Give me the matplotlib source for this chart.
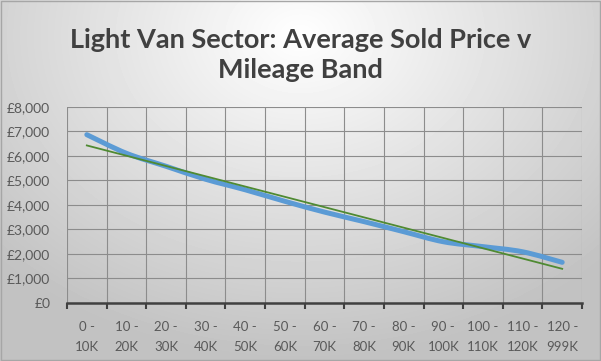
import numpy as np
import matplotlib.pyplot as plt
from matplotlib.path import Path
from matplotlib.patches import PathPatch
from matplotlib.ticker import FixedLocator, FuncFormatter

# mileage bands and average sold price (GBP)
bands = ["0 -\n10K", "10 -\n20K", "20 -\n30K", "30 -\n40K", "40 -\n50K", "50 -\n60K",
         "60 -\n70K", "70 -\n80K", "80 -\n90K", "90 -\n100K", "100 -\n110K",
         "110 -\n120K", "120 -\n999K"]
avg_price = [6870, 6110, 5580, 5050, 4620, 4150, 3710, 3320, 2910, 2500, 2300, 2090, 1660]

plt.rcParams['font.family'] = ['Lato', 'DejaVu Sans']

fig = plt.figure(figsize=(6.01, 3.61), dpi=100)

# background: radial grey gradient
bg = fig.add_axes([0, 0, 1, 1], zorder=-10)
yy, xx = np.mgrid[0:361, 0:601]
r = np.sqrt((xx - 300) ** 2 + ((yy - 35) * 1.3) ** 2) / 420
r = np.clip(r, 0, 1)
shade = 1.0 - 0.24 * r
bg.imshow(shade, cmap='gray', vmin=0, vmax=1, aspect='auto', extent=[0, 1, 0, 1])
bg.set_axis_off()
bg.add_patch(plt.Rectangle((0.001, 0.002), 0.997, 0.995, transform=bg.transAxes,
                           fill=False, ec='#a6a6a6', lw=1))

ax = fig.add_axes([0.1115, 0.1607, 0.8569, 0.5429])
ax.patch.set_alpha(0)
x = np.arange(len(bands))
y = np.array(avg_price, dtype=float)

# smoothed line (bezier through the points, like Excel's smooth line)
verts = [(x[0], y[0])]
codes = [Path.MOVETO]
for i in range(len(x) - 1):
    x0, y0 = (x[i - 1], y[i - 1]) if i > 0 else (x[i], y[i])
    x3, y3 = (x[i + 2], y[i + 2]) if i + 2 < len(x) else (x[i + 1], y[i + 1])
    c1 = (x[i] + (x[i + 1] - x0) / 6, y[i] + (y[i + 1] - y0) / 6)
    c2 = (x[i + 1] - (x3 - x[i]) / 6, y[i + 1] - (y3 - y[i]) / 6)
    verts += [c1, c2, (x[i + 1], y[i + 1])]
    codes += [Path.CURVE4] * 3
ax.add_patch(PathPatch(Path(verts, codes), fill=False, ec='#5b9bd5', lw=3.6,
                       capstyle='round', joinstyle='round', zorder=3))

# linear trendline
k, b = np.polyfit(x, y, 1)
ax.plot(x, k * x + b, color='#4f8a32', lw=1.3, zorder=4)

ax.set_xlim(-0.5, len(bands) - 0.5)
ax.set_ylim(0, 8000)
ax.set_yticks(np.arange(0, 8001, 1000))
ax.yaxis.set_major_formatter(FuncFormatter(lambda v, p: f"£{int(v):,}"))
ax.set_xticks(x)
ax.set_xticklabels(bands, linespacing=1.75)
ax.xaxis.set_minor_locator(FixedLocator(np.arange(-0.5, len(bands), 1)))

ax.grid(True, axis='y', color='#8c8c8c', lw=0.8)
ax.grid(True, axis='x', which='minor', color='#8c8c8c', lw=0.8)
ax.set_axisbelow(True)

for s in ['top', 'right', 'left']:
    ax.spines[s].set_visible(False)
ax.spines['bottom'].set_color('#404040')
ax.spines['bottom'].set_linewidth(1.8)

ax.tick_params(axis='y', length=0, pad=12, labelsize=10, labelcolor='#595959')
ax.tick_params(axis='x', which='major', length=0, pad=13, labelsize=9.5, labelcolor='#595959')
ax.tick_params(axis='x', which='minor', length=4, width=1.5, color='#404040')

fig.text(0.5, 0.848, "Light Van Sector: Average Sold Price v\nMileage Band",
         ha='center', va='center', fontsize=19.5, fontweight='bold', color='#404040',
         linespacing=1.3)

fig.savefig('out.png', dpi=100)
